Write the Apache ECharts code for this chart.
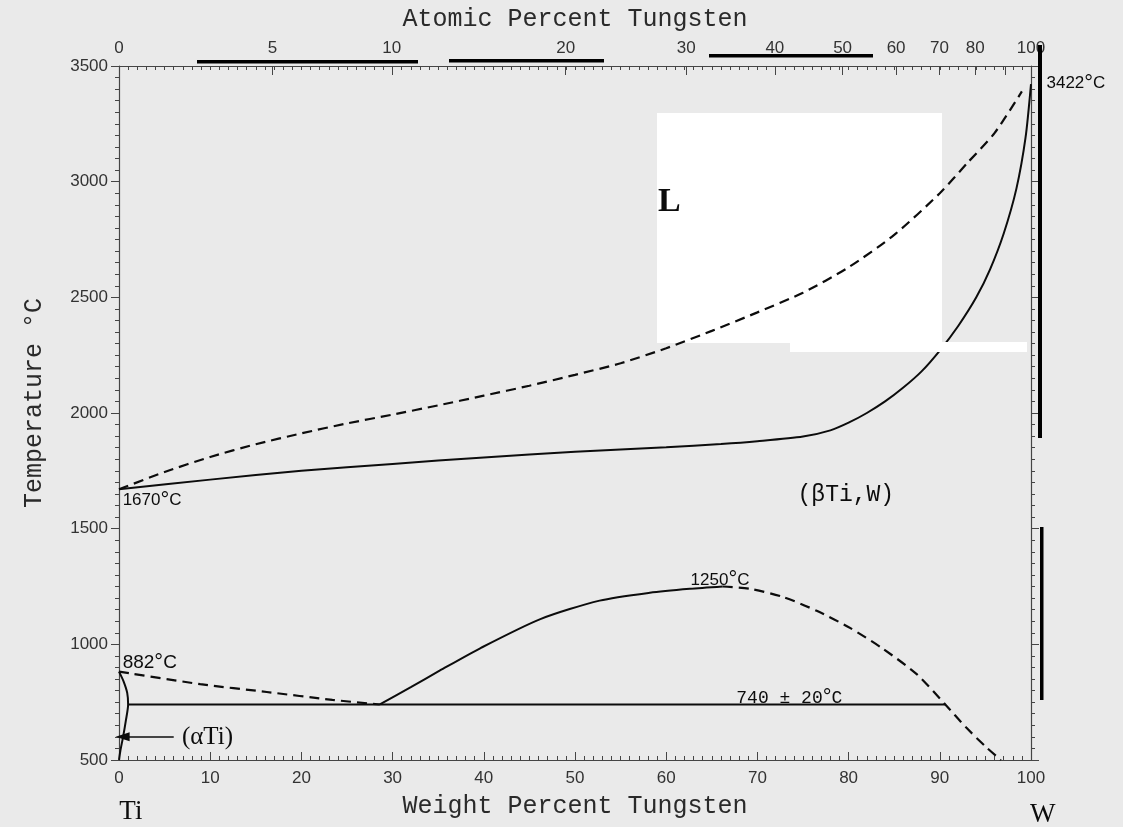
<!DOCTYPE html>
<html>
<head>
<meta charset="utf-8">
<title>Ti-W phase diagram</title>
<script src="https://cdn.jsdelivr.net/npm/echarts@6/dist/echarts.min.js"></script>
<style>
  html, body { margin: 0; padding: 0; background: #fff; }
  #chart { width: 1123px; height: 827px; }
</style>
</head>
<body>
<div id="chart"></div>
<script>
// liquidus (dashed) and solidus (solid), weight % W vs temperature
const liquidusWt = [0, 5, 10, 15, 20, 25, 30, 35, 40, 45, 50, 55, 60, 65, 70, 75, 80, 85, 90, 93, 96, 99];
const liquidusT = [1670, 1745, 1810, 1865, 1912, 1955, 1993, 2033, 2075, 2118, 2165, 2215, 2280, 2355, 2435, 2520, 2630, 2770, 2950, 3080, 3210, 3390];

const solidusWt = [0, 10, 20, 30, 40, 50, 60, 66, 70, 75, 78, 80, 82, 84, 86, 88, 90, 92, 94, 95.5, 97, 98.4, 99.4, 100];
const solidusT = [1670, 1712, 1750, 1780, 1808, 1832, 1852, 1866, 1878, 1898, 1925, 1958, 2000, 2050, 2110, 2180, 2270, 2375, 2500, 2620, 2775, 2970, 3190, 3422];

// alpha Ti boundary near pure Ti
const alphaWt = [0, 0.5, 0.9, 1.0, 0.75, 0.45, 0.15, 0];
const alphaT = [882, 840, 790, 740, 670, 600, 540, 500];

// beta transus down to the monotectoid
const transusWt = [0, 8.9, 16.2, 23.4, 28.6];
const transusT = [882, 828, 794, 760, 740];

// monotectoid line 740 +/- 20 C
const monoWt = [1.0, 90.6];
const monoT = [740, 740];

// miscibility gap: solid left branch, dashed right branch
const gapSolidWt = [28.6, 32, 35.2, 39.6, 46.2, 52.7, 58.2, 62.6, 66.2];
const gapSolidT = [740, 815, 887, 983, 1109, 1189, 1223, 1240, 1250];
const gapDashWt = [66.2, 69.2, 72.8, 76.5, 80.2, 83.8, 87.5, 90.6, 92.9, 95.1, 96.7];
const gapDashT = [1250, 1240, 1205, 1145, 1070, 980, 870, 740, 640, 555, 500];

// arrow from the (alpha Ti) label
const arrowWt = [6.0, 0.4];
const arrowT = [600, 600];

// top axis: atomic percent W
const topAtomicTicks = [0, 5, 10, 20, 30, 40, 50, 60, 70, 80, 90, 100];
const topAtomicLabels = [0, 5, 10, 20, 30, 40, 50, 60, 70, 80, 100];

const W_MASS = 183.84;
const TI_MASS = 47.867;
function atToWt(a) {
  return 100 * a * W_MASS / (a * W_MASS + (100 - a) * TI_MASS);
}
const topTickWt = topAtomicTicks.map(atToWt);
const topLabelWt = topAtomicLabels.map(atToWt);

function pairs(xs, ys) {
  return xs.map((x, i) => [x, ys[i]]);
}

const INK = '#0c0c0c';
const AXIS = '#454545';
const SANS = 'Liberation Sans';
const MONO = 'Liberation Mono';
const SERIF = 'Liberation Serif';

const degRich = {
  d: { fontFamily: SANS, fontSize: 22, color: INK }
};

// annotations, placed in data units
const notes = [
  { text: '1670{d|°}C', at: [0.4, 1622], pos: 'right', font: SANS, size: 17 },
  { text: '882{d|°}C', at: [0.4, 920], pos: 'right', font: SANS, size: 19 },
  { text: '1250{d|°}C', at: [65.9, 1277], pos: 'inside', font: SANS, size: 17 },
  { text: '740 ± 20{d|°}C', at: [73.5, 768], pos: 'inside', font: MONO, size: 18 },
  { text: '3422{d|°}C', at: [101.7, 3424], pos: 'right', font: SANS, size: 17 },
  { text: '(βTi,W)', at: [79.7, 1648], pos: 'inside', font: MONO, size: 23 },
  { text: '(αTi)', at: [6.9, 598], pos: 'right', font: SERIF, size: 25 },
  { text: 'L', at: [59.1, 2913], pos: 'right', font: SERIF, size: 34, weight: 'bold' },
  { text: 'Ti', at: [1.3, 275], pos: 'inside', font: SERIF, size: 27 },
  { text: 'W', at: [101.3, 262], pos: 'inside', font: SERIF, size: 27 }
];

const chart = echarts.init(document.getElementById('chart'));

const tickLabel = { fontFamily: SANS, fontSize: 17, color: '#333' };
const axisName = { fontFamily: MONO, fontSize: 25, color: '#2a2a2a' };

function line(data, dashed, extra) {
  return Object.assign({
    type: 'line',
    data: data,
    symbol: 'none',
    smooth: 0.25,
    silent: true,
    lineStyle: { color: INK, width: dashed ? 2.2 : 2, type: dashed ? [10, 6] : 'solid' },
    z: 3
  }, extra || {});
}

const option = {
  backgroundColor: '#eaeaea',
  animation: false,
  grid: { left: 119, right: 92, top: 66, bottom: 67 },
  xAxis: [
    {
      type: 'value',
      position: 'bottom',
      min: 0,
      max: 100,
      interval: 10,
      axisLine: { show: true, onZero: false, lineStyle: { color: AXIS, width: 1.2 } },
      axisTick: { inside: true, length: 8, lineStyle: { color: AXIS } },
      minorTick: { show: true, splitNumber: 10, length: 4, lineStyle: { color: AXIS } },
      axisLabel: Object.assign({ margin: 10 }, tickLabel),
      splitLine: { show: false },
      name: 'Weight Percent Tungsten',
      nameLocation: 'middle',
      nameGap: 34,
      nameTextStyle: axisName
    },
    {
      type: 'value',
      position: 'top',
      min: 0,
      max: 100,
      axisLine: { show: true, onZero: false, lineStyle: { color: AXIS, width: 1.2 } },
      axisTick: { inside: true, length: 9, customValues: topTickWt, lineStyle: { color: AXIS } },
      axisLabel: Object.assign({
        margin: 9,
        customValues: topLabelWt,
        formatter: function (v) {
          const i = topLabelWt.findIndex(w => Math.abs(w - v) < 1e-6);
          return i < 0 ? '' : String(topAtomicLabels[i]);
        }
      }, tickLabel),
      splitLine: { show: false },
      name: 'Atomic Percent Tungsten',
      nameLocation: 'middle',
      nameGap: 34,
      nameTextStyle: axisName
    },
    {
      type: 'value',
      position: 'top',
      min: 0,
      max: 100,
      interval: 1,
      axisLine: { show: false },
      axisTick: { inside: true, length: 4, lineStyle: { color: AXIS } },
      axisLabel: { show: false },
      splitLine: { show: false }
    }
  ],
  yAxis: [
    {
      type: 'value',
      position: 'left',
      min: 500,
      max: 3500,
      interval: 500,
      axisLine: { show: true, onZero: false, lineStyle: { color: AXIS, width: 1.2 } },
      axisTick: { show: true, length: 8, lineStyle: { color: AXIS } },
      minorTick: { show: true, splitNumber: 10, length: 4, lineStyle: { color: AXIS } },
      axisLabel: Object.assign({ margin: 11, formatter: v => String(v) }, tickLabel),
      splitLine: { show: false },
      name: 'Temperature °C',
      nameLocation: 'middle',
      nameGap: 72,
      nameTextStyle: Object.assign({ padding: [0, 0, 0, 20] }, axisName)
    },
    {
      type: 'value',
      position: 'right',
      min: 500,
      max: 3500,
      interval: 500,
      axisLine: { show: true, onZero: false, lineStyle: { color: AXIS, width: 1.2 } },
      axisTick: { show: true, length: 8, lineStyle: { color: AXIS } },
      minorTick: { show: true, splitNumber: 10, length: 4, lineStyle: { color: AXIS } },
      axisLabel: { show: false },
      splitLine: { show: false }
    }
  ],
  series: [
    line(pairs(liquidusWt, liquidusT), true),
    line(pairs(solidusWt, solidusT), false),
    line(pairs(alphaWt, alphaT), false, {
      markLine: {
        silent: true,
        symbol: ['none', 'triangle'],
        symbolSize: [9, 14],
        label: { show: false },
        lineStyle: { color: INK, width: 1.6, type: 'solid' },
        data: [[{ coord: [arrowWt[0], arrowT[0]] }, { coord: [arrowWt[1], arrowT[1]] }]]
      }
    }),
    line(pairs(transusWt, transusT), true),
    line(pairs(monoWt, monoT), false, { smooth: false }),
    line(pairs(gapSolidWt, gapSolidT), false),
    line(pairs(gapDashWt, gapDashT), true),
    {
      type: 'scatter',
      silent: true,
      clip: false,
      symbolSize: 0,
      itemStyle: { opacity: 1 },
      z: 6,
      data: notes.map(n => ({
        value: n.at,
        label: {
          show: true,
          position: n.pos,
          distance: 0,
          opacity: 1,
          formatter: n.text,
          fontFamily: n.font,
          fontSize: n.size,
          fontWeight: n.weight || 'normal',
          color: INK,
          rich: degRich
        }
      }))
    }
  ],
  graphic: [
    // pasted-over patches in the scan
    { type: 'rect', z: 1, silent: true, shape: { x: 657, y: 113, width: 285, height: 230 }, style: { fill: '#ffffff' } },
    { type: 'rect', z: 20, silent: true, shape: { x: 790, y: 342, width: 237, height: 10 }, style: { fill: '#ffffff' } },
    { type: 'rect', z: 20, silent: true, shape: { x: 197, y: 60, width: 221, height: 3.5 }, style: { fill: '#000' } },
    { type: 'rect', z: 20, silent: true, shape: { x: 449, y: 59, width: 155, height: 3.5 }, style: { fill: '#000' } },
    { type: 'rect', z: 20, silent: true, shape: { x: 709, y: 54, width: 164, height: 3.5 }, style: { fill: '#000' } },
    { type: 'rect', z: 20, silent: true, shape: { x: 1038, y: 45, width: 4, height: 393 }, style: { fill: '#000' } },
    { type: 'rect', z: 20, silent: true, shape: { x: 1040, y: 527, width: 3.5, height: 173 }, style: { fill: '#000' } }
  ]
};

chart.setOption(option);
</script>
</body>
</html>
